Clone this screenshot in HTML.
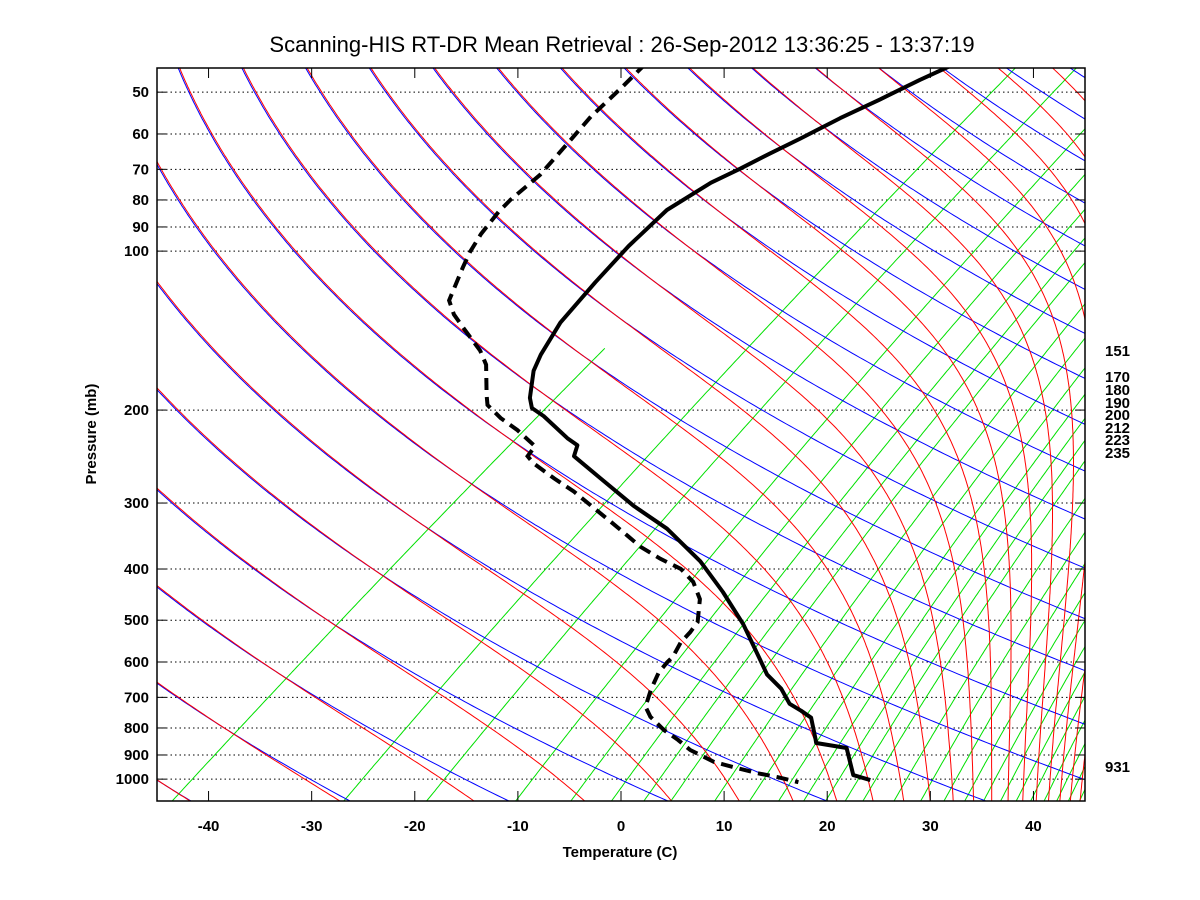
<!DOCTYPE html>
<html><head><meta charset="utf-8">
<style>
html,body{margin:0;padding:0;background:#fff;}
svg{display:block;}
text{font-family:"Liberation Sans",Arial,sans-serif;}
.tk{font-size:15px;font-weight:bold;fill:#000;}
</style></head>
<body>
<svg id="chart" width="1200" height="900" viewBox="0 0 1200 900" xmlns="http://www.w3.org/2000/svg">
  <rect x="0" y="0" width="1200" height="900" fill="#fff"/>
  <defs><clipPath id="plotclip"><rect x="157" y="68" width="928" height="733"/></clipPath></defs>
  <text x="622" y="52" text-anchor="middle" font-size="22" fill="#000">Scanning-HIS RT-DR Mean Retrieval : 26-Sep-2012 13:36:25 - 13:37:19</text>
  <g id="grid" clip-path="url(#plotclip)"></g>
  <g id="profiles" clip-path="url(#plotclip)"></g>
  <g id="axes"></g>
  <text x="620" y="857" text-anchor="middle" class="tk">Temperature (C)</text>
  <text transform="translate(96,434) rotate(-90)" text-anchor="middle" class="tk">Pressure (mb)</text>
  <g id="rightlabels"></g>
</svg>
<script>
// ---- data ----
const xTicks = [-40,-30,-20,-10,0,10,20,30,40];
const pTicks = [50,60,70,80,90,100,200,300,400,500,600,700,800,900,1000];
const thetaLines = [213,228,243,258,273,288,303,318,333,348,363,378,393,408,423,438,453,468,483,498,513,528,543,558,573,588,603,618,633,648,663];
const mixRatios = [0.1,0.5,1,2,3,4,5,6,8,10,12,14,16,18,20,24,28,32,36,40,44,48,52,56,60,64,68];
const tempP = [44.2,47.4,51.6,56.0,61.2,65.3,69.8,74.2,83.6,97.8,114.5,136.6,157.1,168.5,189.7,198.2,205.3,226.1,233.2,244.6,269.5,303.3,335.5,386.8,442.2,509,596,634,674,720,742,765,839,854,873,982.6,1004];
const tempT = [-61.2,-62.5,-63.8,-65.2,-66.4,-67.4,-68.3,-69.3,-70.0,-69.0,-67.5,-65.6,-63.3,-61.9,-58.7,-57.2,-55.0,-49.8,-47.9,-46.8,-41.3,-34.6,-28.3,-20.8,-14.6,-8.4,-2.0,0.5,3.7,6.5,8.5,10.4,13.6,14.2,17.8,22.0,24.3];
const dewP = [44.2,49.1,55.6,63.4,71.7,80.0,84.2,92.8,100.4,107.3,124,131.8,139.5,154.4,164.1,187.2,195.6,207.1,218.3,234.1,244.6,252.3,269.5,285.3,303.3,325.3,346.0,363.1,382.6,399.8,423.2,456.1,504.5,527.2,550.8,585.6,601.1,628.1,677.0,729.2,762.0,806.6,842.8,880.7,928.1,948.7,974.0,991.3,1013.2];
const dewT = [-91.2,-90.4,-89.6,-88.2,-86.9,-86.5,-86.1,-84.9,-83.6,-82.3,-79.3,-77.0,-74.4,-69.7,-67.3,-63.3,-61.9,-58.9,-55.7,-51.9,-51.3,-49.8,-45.8,-42.2,-38.7,-34.7,-31.2,-28.5,-25.0,-21.7,-18.8,-15.9,-13.1,-12.5,-12.1,-11.0,-10.8,-10.3,-8.8,-7.1,-5.3,-2.3,0.4,2.9,6.8,9.3,12.4,14.9,17.6];
const rightLabels = ["151","170","180","190","200","212","223","235","931"];

// ---- axis functions ----
const X0=157, X1=1085, Y0=68, Y1=801, PMIN=45, PMAX=1100, TMIN=-45, TMAX=45, SKEW=30;
function yOf(p){ return Y0 + (Y1-Y0)*Math.log(p/PMIN)/Math.log(PMAX/PMIN); }
function xOfC(xc){ return X0 + (xc-TMIN)*(X1-X0)/(TMAX-TMIN); }
function xOf(T,p){ return xOfC(T + SKEW*Math.log(1000/p)); }
const NS="http://www.w3.org/2000/svg";
function mk(tag,attrs,parent){ const e=document.createElementNS(NS,tag); for(const k in attrs) e.setAttribute(k,attrs[k]); parent.appendChild(e); return e; }
function es(tc){ if(tc<-120) return 0; return 6.112*Math.exp(17.67*tc/(tc+243.5)); }
function thetaE(TK,p){ const tc=TK-273.15; const e=es(tc); const ws=0.622*e/Math.max(p-e,0.1); return TK*Math.pow(1000/p,0.286)*Math.exp(2.5e6*ws/(1004*TK)); }
const pLevels=[]; for(let lp=Math.log(40); lp<=Math.log(1120); lp+=0.01) pLevels.push(Math.exp(lp));

const grid=document.getElementById('grid');
pTicks.forEach(p=>{
  const l=mk('line',{x1:X0,x2:X1,y1:yOf(p),y2:yOf(p),stroke:'#000','stroke-width':1,'stroke-dasharray':'1.5,3'},grid);
  
  
});
// mixing ratio lines (green)
mixRatios.forEach(w=>{
  const pts=[];
  pLevels.forEach(p=>{
    const e=(w/1000)*p/(0.622+w/1000); const L=Math.log(e/6.112);
    const td=243.5*L/(17.67-L);
    if(td>-58) pts.push(xOf(td,p).toFixed(1)+','+yOf(p).toFixed(1));
  });
  if(pts.length>1){
    const pl=mk('polyline',{points:pts.join(' '),fill:'none',stroke:'#00e000','stroke-width':1},grid);
    
    
  }
});
// dry adiabats (blue)
thetaLines.forEach(th=>{
  const pts=pLevels.map(p=>{ const T=th*Math.pow(p/1000,0.286)-273.15; return xOf(T,p).toFixed(1)+','+yOf(p).toFixed(1); });
  const pl=mk('polyline',{points:pts.join(' '),fill:'none',stroke:'#0000ff','stroke-width':1},grid);
  
  
});
// moist adiabats (red), drawn over blue with slight offset
thetaLines.forEach(th=>{
  const pts=[];
  pLevels.forEach(p=>{
    let lo=60, hi=345;
    if(thetaE(hi,p)<th || thetaE(lo,p)>th) return;
    for(let i=0;i<40;i++){ const m=(lo+hi)/2; if(thetaE(m,p)<th) lo=m; else hi=m; }
    pts.push((xOf(lo-273.15,p)+1.2).toFixed(1)+','+(yOf(p)-0.6).toFixed(1));
  });
  if(pts.length>1){
    const pl=mk('polyline',{points:pts.join(' '),fill:'none',stroke:'#ff0000','stroke-width':1},grid);
    
    
  }
});

// profiles
const prof=document.getElementById('profiles');
const dpts=dewP.map((p,i)=>xOf(dewT[i],p).toFixed(1)+','+yOf(p).toFixed(1)).join(' ');
const dl=mk('polyline',{points:dpts,fill:'none',stroke:'#000','stroke-width':4,'stroke-dasharray':'12,7'},prof);


const tpts=tempP.map((p,i)=>xOf(tempT[i],p).toFixed(1)+','+yOf(p).toFixed(1)).join(' ');
const tl=mk('polyline',{points:tpts,fill:'none',stroke:'#000','stroke-width':4,'stroke-linejoin':'round'},prof);



// axes
const ax=document.getElementById('axes');
const fr=mk('rect',{x:X0,y:Y0,width:X1-X0,height:Y1-Y0,fill:'none',stroke:'#000','stroke-width':1.5},ax);


xTicks.forEach(t=>{
  const x=xOfC(t);
  mk('line',{x1:x,x2:x,y1:Y1,y2:Y1-10,stroke:'#000','stroke-width':1},ax);
  mk('line',{x1:x,x2:x,y1:Y0,y2:Y0+10,stroke:'#000','stroke-width':1},ax);
  const tx=mk('text',{x:x,y:831,'text-anchor':'middle',class:'tk'},ax);
  tx.textContent=String(t);
  
  
});
pTicks.forEach(p=>{
  const y=yOf(p);
  mk('line',{x1:X0,x2:X0+9,y1:y,y2:y,stroke:'#000','stroke-width':1},ax);
  mk('line',{x1:X1,x2:X1-9,y1:y,y2:y,stroke:'#000','stroke-width':1},ax);
  const tx=mk('text',{x:149,y:y+5,'text-anchor':'end',class:'tk'},ax);
  tx.textContent=String(p);
  
  
});
const rl=document.getElementById('rightlabels');
const rly=[350,376,389,402,414,427,439,452,766];
rightLabels.forEach((s,i)=>{
  const tx=mk('text',{x:1105,y:rly[i]+6,class:'tk'},rl);
  tx.textContent=s;
  
  
});
</script>
</body></html>
